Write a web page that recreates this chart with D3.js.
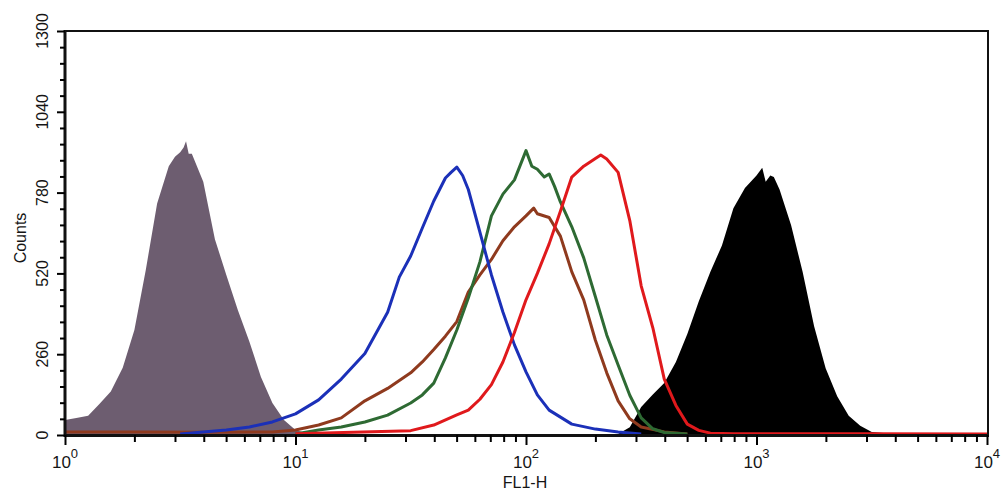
<!DOCTYPE html>
<meta charset="utf-8">
<head>
    <title>FL1-H histogram overlay</title>
    <style>
        body { margin: 0; background: #fff; }
        text { font-family: "Liberation Sans", Arial, sans-serif; fill: #151515; }
    </style>
</head>
<body>
<script src="https://d3js.org/d3.v7.min.js"></script>
<script>
    // axis ticks
    var yMajor = [0, 260, 520, 780, 1040, 1300];
    var xMajor = [1, 10, 100, 1000, 10000];
    var xExponents = ["0", "1", "2", "3", "4"];

    // unstained control (grey filled)
    var greyFL =     [1, 1.12, 1.26, 1.41, 1.58, 1.78, 2.0, 2.24, 2.51, 2.82, 3.0, 3.16, 3.27, 3.35, 3.44, 3.55, 3.98, 4.47, 5.01, 5.62, 6.31, 7.08, 7.94, 8.91, 10, 11.2, 12.6];
    var greyCounts = [48, 55, 62, 100, 140, 216, 338, 530, 745, 865, 895, 910, 925, 945, 905, 905, 815, 630, 515, 402, 300, 187, 103, 48, 16, 6, 0];

    // blue line
    var blueFL =     [3.16, 3.98, 5.01, 6.31, 7.94, 10, 12.6, 15.8, 20, 25.1, 28.2, 31.6, 35.5, 39.8, 44.7, 47.3, 50.1, 53.1, 56.2, 63.1, 70.8, 79.4, 89.1, 100, 112, 126, 158, 200, 251, 316];
    var blueCounts = [3, 10, 16, 26, 42, 68, 113, 180, 262, 395, 508, 576, 666, 753, 827, 845, 862, 835, 790, 653, 515, 396, 290, 203, 129, 80, 35, 19, 10, 3];

    // brown line
    var brownFL =     [1, 2, 4, 7.94, 10, 12.6, 15.8, 20, 25.1, 31.6, 35.5, 39.8, 44.7, 50.1, 56.2, 63.1, 70.8, 79.4, 89.1, 100, 108, 112, 126, 141, 158, 178, 200, 224, 251, 282, 316, 398, 501];
    var brownCounts = [10, 10, 9, 10, 16, 32, 55, 110, 150, 200, 235, 275, 318, 365, 460, 515, 565, 625, 670, 705, 730, 712, 700, 640, 525, 435, 305, 200, 110, 52, 26, 10, 3];

    // green line
    var greenFL =     [10, 12.6, 15.8, 20, 25.1, 31.6, 35.5, 39.8, 44.7, 50.1, 56.2, 63.1, 70.8, 79.4, 89.1, 100, 106, 112, 120, 126, 133, 141, 158, 178, 200, 224, 251, 282, 316, 355, 398, 501];
    var greenCounts = [3, 16, 26, 42, 64, 103, 129, 167, 248, 338, 441, 557, 705, 775, 821, 915, 865, 855, 830, 840, 800, 750, 670, 570, 445, 322, 225, 128, 55, 20, 8, 3];

    // red line
    var redFL =     [10, 31.6, 39.8, 50.1, 56.2, 63.1, 70.8, 79.4, 89.1, 100, 112, 126, 141, 158, 178, 200, 211, 224, 251, 282, 316, 355, 398, 447, 501, 562, 631, 794, 3162, 10000];
    var redCounts = [4, 14, 32, 65, 80, 115, 162, 235, 330, 435, 520, 615, 720, 830, 865, 890, 901, 888, 845, 690, 480, 345, 180, 95, 35, 15, 6, 4, 4, 3];

    // bright control (black filled)
    var blackFL =     [251, 282, 316, 355, 398, 447, 501, 562, 631, 708, 794, 891, 1000, 1059, 1096, 1148, 1189, 1259, 1413, 1585, 1778, 1995, 2239, 2512, 2818, 3162, 3981];
    var blackCounts = [3, 25, 90, 130, 167, 235, 325, 430, 525, 610, 730, 795, 835, 860, 815, 835, 830, 790, 675, 525, 350, 215, 125, 62, 30, 10, 3];

    var svg = d3.select("body").append("svg")
        .attr("width", 1001)
        .attr("height", 492);

    var x = d3.scaleLog().domain([1, 10000]).range([65, 987]);
    var y = d3.scaleLinear().domain([0, 1300]).range([435, 31]);

    function pairs(fl, counts) {
        return fl.map(function (d, i) { return [d, counts[i]]; });
    }

    var area = d3.area()
        .x(function (d) { return x(d[0]); })
        .y0(y(0))
        .y1(function (d) { return y(d[1]); });

    var line = d3.line()
        .x(function (d) { return x(d[0]); })
        .y(function (d) { return y(d[1]); });

    // filled histograms
    svg.append("path").datum(pairs(greyFL, greyCounts))
        .attr("d", area).attr("fill", "#6d5d70");
    svg.append("path").datum(pairs(blackFL, blackCounts))
        .attr("d", area).attr("fill", "#000");

    // outlined histograms
    var lines = [
        [brownFL, brownCounts, "#8f3a1e"],
        [greenFL, greenCounts, "#2e6a33"],
        [blueFL, blueCounts, "#1b30b8"],
        [redFL, redCounts, "#e0191c"]
    ];
    lines.forEach(function (s) {
        svg.append("path").datum(pairs(s[0], s[1]))
            .attr("d", line)
            .attr("fill", "none")
            .attr("stroke", s[2])
            .attr("stroke-width", 3)
            .attr("stroke-linejoin", "round");
    });

    // frame
    svg.append("rect")
        .attr("x", 65).attr("y", 31)
        .attr("width", 923).attr("height", 404)
        .attr("fill", "none")
        .attr("stroke", "#111")
        .attr("stroke-width", 2);
    svg.append("line").attr("x1", 65).attr("x2", 65).attr("y1", 30).attr("y2", 437)
        .attr("stroke", "#111").attr("stroke-width", 3);
    svg.append("line").attr("x1", 64).attr("x2", 989).attr("y1", 435.5).attr("y2", 435.5)
        .attr("stroke", "#111").attr("stroke-width", 3);

    // y ticks
    var yMinor = d3.range(0, 1300, 52).filter(function (d) { return yMajor.indexOf(d) < 0; });
    svg.append("g").attr("transform", "translate(65,0)")
        .call(d3.axisLeft(y).tickValues(yMinor).tickSize(5).tickFormat(""))
        .call(function (g) { g.select(".domain").remove(); g.selectAll("line").attr("stroke-width", 2); });
    svg.append("g").attr("transform", "translate(65,0)")
        .call(d3.axisLeft(y).tickValues(yMajor).tickSize(8).tickFormat(""))
        .call(function (g) { g.select(".domain").remove(); g.selectAll("line").attr("stroke-width", 2); });

    svg.selectAll(".ylab").data(yMajor).enter().append("text")
        .attr("class", "ylab")
        .attr("transform", function (d) { return "translate(48," + y(d) + ") rotate(-90)"; })
        .attr("text-anchor", "middle")
        .style("font-size", "16px")
        .text(function (d) { return d; });

    svg.append("text")
        .attr("transform", "translate(26,238) rotate(-90)")
        .attr("text-anchor", "middle")
        .style("font-size", "16px")
        .text("Counts");

    // x ticks
    var xMinor = x.ticks().filter(function (d) { return xMajor.indexOf(d) < 0; });
    svg.append("g").attr("transform", "translate(0,435)")
        .call(d3.axisBottom(x).tickValues(xMinor).tickSize(7).tickFormat(""))
        .call(function (g) { g.select(".domain").remove(); g.selectAll("line").attr("stroke-width", 2); });
    svg.append("g").attr("transform", "translate(0,435)")
        .call(d3.axisBottom(x).tickValues(xMajor).tickSize(10).tickFormat(""))
        .call(function (g) { g.select(".domain").remove(); g.selectAll("line").attr("stroke-width", 2); });

    var xlab = svg.selectAll(".xlab").data(xMajor).enter().append("text")
        .attr("class", "xlab")
        .attr("x", function (d) { return x(d); })
        .attr("y", 468)
        .attr("text-anchor", "middle")
        .style("font-size", "17px");
    xlab.append("tspan").text("10");
    xlab.append("tspan")
        .attr("dy", -10)
        .style("font-size", "13px")
        .text(function (d, i) { return xExponents[i]; });

    svg.append("text")
        .attr("x", 525).attr("y", 488)
        .attr("text-anchor", "middle")
        .style("font-size", "16px")
        .text("FL1-H");
</script>
</body>
</html>
